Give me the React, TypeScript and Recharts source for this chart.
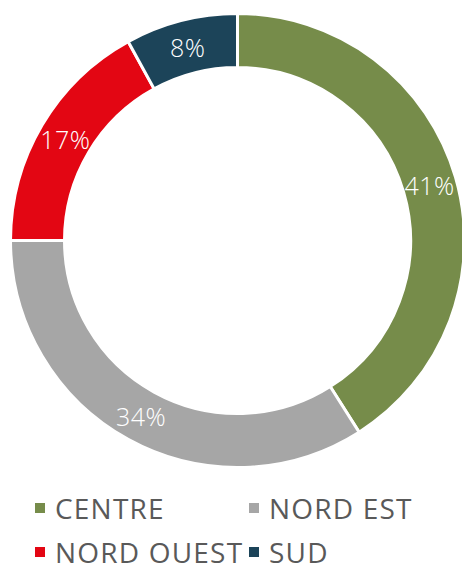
import { Cell, Legend, Pie, PieChart } from 'recharts'

const regions = ['CENTRE', 'NORD EST', 'NORD OUEST', 'SUD']
const shares = [41, 34, 17, 8]
const colors = ['#768C4A', '#A6A6A6', '#E30613', '#1C4459']

const chartData = regions.map((name, i) => ({ name, value: shares[i] }))

const RAD = Math.PI / 180

const renderLabel = (props: any) => {
	const { cx, cy, midAngle, innerRadius, outerRadius, value } = props
	const r = (innerRadius + outerRadius) / 2
	const x = cx + r * Math.cos(-midAngle * RAD)
	const y = cy + r * Math.sin(-midAngle * RAD)
	return (
		<text
			x={x}
			y={y}
			fill="#ffffff"
			textAnchor="middle"
			dominantBaseline="central"
			fontSize={25}
			fontWeight={300}
			letterSpacing={0.5}
			fontFamily="'Open Sans', sans-serif"
		>
			{value}%
		</text>
	)
}

const CustomLegend = () => (
	<div
		style={{
			display: 'grid',
			gridTemplateColumns: '214px 200px',
			rowGap: 16,
			paddingLeft: 35,
			fontFamily: "'Open Sans', sans-serif",
			fontSize: 28,
			letterSpacing: 1.2,
			color: '#595959',
			lineHeight: '28px',
		}}
	>
		{regions.map((name, i) => (
			<div key={name} style={{ display: 'flex', alignItems: 'center', whiteSpace: 'nowrap' }}>
				<span
					style={{
						display: 'inline-block',
						width: 10,
						height: 10,
						backgroundColor: colors[i],
						marginRight: 10,
					}}
				/>
				<span>{name}</span>
			</div>
		))}
	</div>
)

export default function App() {
	return (
		<div style={{ position: 'absolute', top: 0, left: 0, width: 462, height: 566, background: '#fff' }}>
			<PieChart width={462} height={566}>
				<Pie
					data={chartData}
					dataKey="value"
					nameKey="name"
					cx={232.5}
					cy={235.5}
					innerRadius={173}
					outerRadius={227}
					startAngle={90}
					endAngle={-270}
					stroke="#ffffff"
					strokeWidth={3}
					label={renderLabel}
					labelLine={false}
					isAnimationActive={false}
				>
					{chartData.map((entry, index) => (
						<Cell key={`cell-${index}`} fill={colors[index]} />
					))}
				</Pie>
				<Legend
					content={<CustomLegend />}
					wrapperStyle={{ top: 494, left: 0, width: 462 }}
				/>
			</PieChart>
		</div>
	)
}
